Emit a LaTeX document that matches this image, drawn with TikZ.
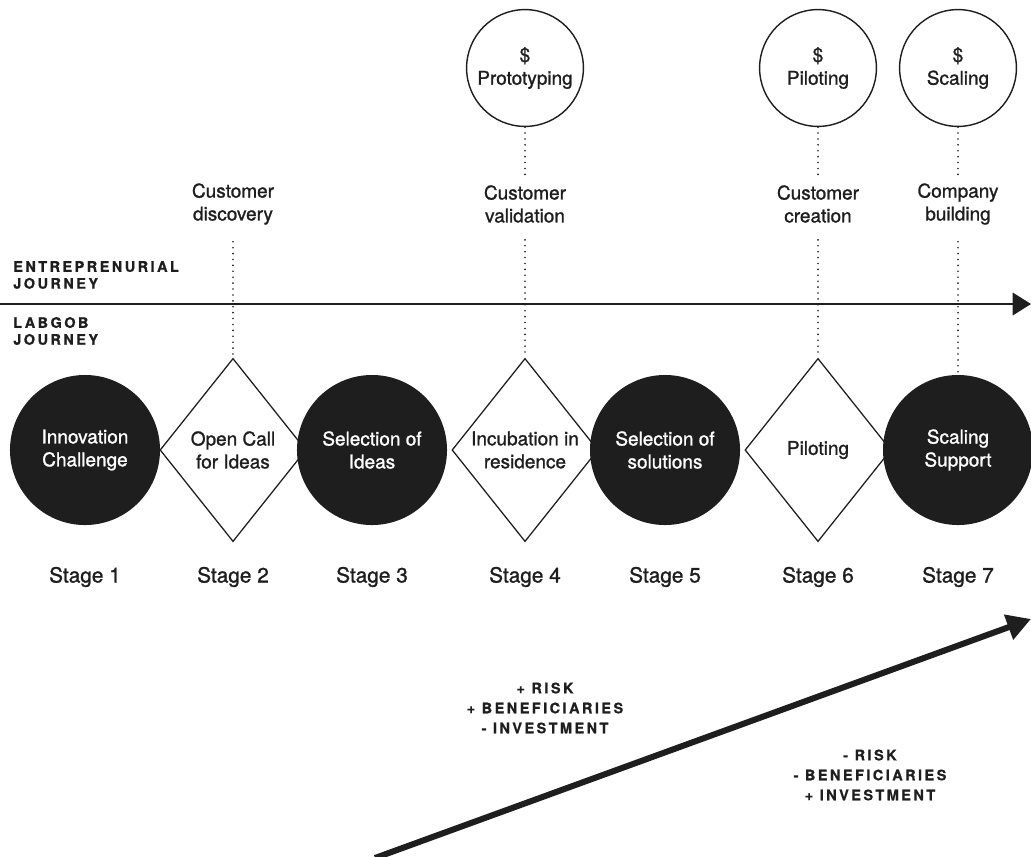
\documentclass[tikz,border=0pt]{standalone}
\usepackage{fontspec}
\setmainfont{TeX Gyre Heros}[FakeBold=1.2]
\newfontfamily\spacedfont{TeX Gyre Heros}[LetterSpace=17, BoldFeatures={FakeBold=0.8}]
\usetikzlibrary{shapes.geometric,arrows.meta}
\definecolor{ink}{HTML}{1E1E1E}

\begin{document}
\begin{tikzpicture}[
        x=0.025cm, y=-0.025cm,
        font=\fontsize{13.5}{16.3}\selectfont,
        hub/.style={circle, fill=ink, text=white, minimum size=3.75cm, inner sep=0pt, align=center},
        gate/.style={diamond, draw=ink, line width=0.9pt, fill=white, minimum width=3.65cm, minimum height=4.58cm, inner sep=0pt, align=center, text=ink},
        fund/.style={circle, draw=ink, line width=1pt, minimum size=2.92cm, inner sep=0pt, align=center, text=ink},
        toplbl/.style={inner sep=0pt, align=center, text=ink},
        stagelbl/.style={inner sep=0pt, text=ink, font=\fontsize{14.8}{17}\selectfont},
        caps/.style={inner sep=0pt, text=ink, font=\spacedfont\bfseries\fontsize{10.3}{14.2}\selectfont},
        stagedot/.style={draw=ink, line width=1.3pt, line cap=round, dash pattern=on 0pt off 4.2pt}
    ]
        \useasboundingbox (0,0) rectangle (1031,856);

        % journey line
        \coordinate (jstart) at (0,304);
        \coordinate (jend) at (1031,304);
        \draw[ink, line width=1.4pt, -{Triangle[length=13pt,width=16pt]}] (jstart) -- (jend);
        \node[caps, anchor=west, align=left, font=\spacedfont\bfseries\fontsize{10.3}{12}\selectfont] (ej) at (13,275) {ENTREPRENURIAL\\JOURNEY};
        \node[caps, anchor=west, align=left, font=\spacedfont\bfseries\fontsize{10.3}{12}\selectfont] (lj) at (13,331) {LABGOB\\JOURNEY};

        % stages
        \foreach \x/\i/\txt in {233/2/{Open Call\\for Ideas}, 525/4/{Incubation in\\residence}, 818/6/{Piloting}} {
            \node[gate] (s\i) at (\x,450) {\txt};
        }
        \foreach \x/\i/\txt in {85/1/{Innovation\\Challenge}, 372/3/{Selection of\\Ideas}, 665/5/{Selection of\\solutions}, 958/7/{Scaling\\Support}} {
            \node[hub] (s\i) at (\x,450) {\txt};
        }
        \foreach \x/\i in {85/1, 233/2, 372/3, 525/4, 665/5, 818/6, 958/7} {
            \node[stagelbl] (l\i) at (\x,577) {Stage \i};
        }

        % customer steps
        \node[toplbl] (t2) at (233,204) {Customer\\discovery};
        \node[toplbl] (t4) at (525,204) {Customer\\validation};
        \node[toplbl] (t6) at (818,204) {Customer\\creation};
        \node[toplbl] (t7) at (958,204) {Company\\building};
        \foreach \i in {2,4,6,7} {
            \draw[stagedot, shorten <=12pt] (t\i.south) -- (s\i.north);
        }

        % funding
        \node[fund] (f4) at (525,68) {\$\\Prototyping};
        \node[fund] (f6) at (818,68) {\$\\Piloting};
        \node[fund] (f7) at (958,68) {\$\\Scaling};
        \foreach \i in {4,6,7} {
            \draw[stagedot, shorten >=6pt] (f\i.south) -- (t\i.north);
        }

        % risk arrow
        \coordinate (rlow) at (375,858);
        \coordinate (rhigh) at (1031,619);
        \draw[ink, line width=4.3pt, -{Triangle[length=17pt,width=18pt]}] (rlow) -- (rhigh);
        \node[caps, align=center] (riskup) at (545,708) {+ RISK\\+ BENEFICIARIES\\- INVESTMENT};
        \node[caps, align=center] (riskdown) at (870,775) {- RISK\\- BENEFICIARIES\\+ INVESTMENT};
    \end{tikzpicture}
\end{document}
